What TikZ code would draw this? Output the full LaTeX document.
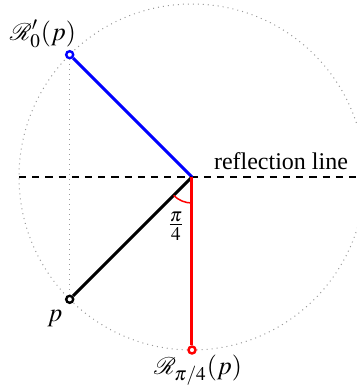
\documentclass[tikz,border=0pt]{standalone}
\usepackage{mathptmx}
\usepackage{mathrsfs}
\usepackage{fontspec}
\setmainfont{Liberation Serif}
\newfontfamily\tnrfont{Liberation Serif}
\begin{document}
\begin{tikzpicture}[x=0.5pt,y=-0.5pt,
  seg/.style={line width=1.5pt},
  dotnode/.style={circle,draw,fill=white,line width=1.2pt,inner sep=0pt,minimum size=3.5pt},
  guide/.style={gray!80,dotted,line width=0.5pt},
  refl/.style={line width=1pt,dash pattern=on 3.6pt off 3pt},
  lbl/.style={inner sep=0pt,font=\tnrfont\fontsize{12}{14}\selectfont},
  mlbl/.style={inner sep=0pt,font=\fontsize{13}{15}\selectfont}]
\useasboundingbox (0,0) rectangle (357,387);
\clip (0,0) rectangle (357,387);
\coordinate (O) at (192,177);
\draw[guide] (O) circle[radius=86.5pt];
\coordinate (L) at (19,177);
\coordinate (Rr) at (365,177);
\draw[refl] (L) -- (Rr);
\node[dotnode,draw=blue] (A) at (69.7,54.7) {};
\node[dotnode,draw=black] (P) at (69.7,299.3) {};
\node[dotnode,draw=red] (B) at (192,350) {};
\draw[guide] (A) -- (P);
\draw[seg,blue] (O) -- (A);
\draw[seg,black] (O) -- (P);
\draw[seg,red] (O) -- (B);
\draw[red,line width=0.75pt] (O) ++(225:13pt) arc[start angle=225,end angle=270,radius=13pt];
\node[mlbl] (frac) at (176,226) {$\frac{\pi}{4}$};
\node[lbl] (rl) at (281,161) {reflection line};
\node[mlbl] (la) at (43,34) {$\mathscr{R}'_0(p)$};
\node[mlbl] (lp) at (55,318) {$p$};
\node[mlbl] (lb) at (198,370) {$\mathscr{R}_{\pi/4}(p)$};
\end{tikzpicture}
\end{document}
